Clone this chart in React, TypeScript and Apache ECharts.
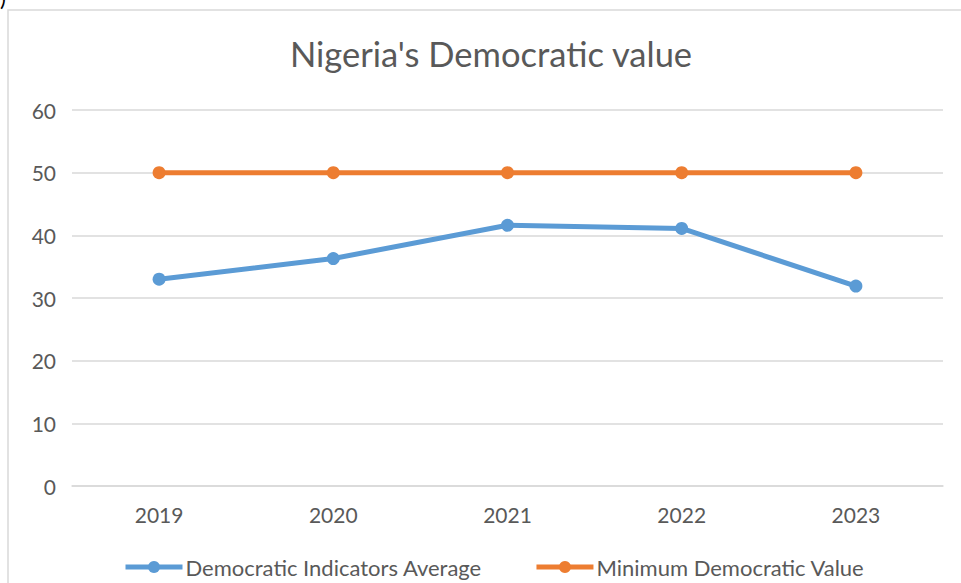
import React, { useEffect, useRef } from "react";
import * as echarts from "echarts";

const years = ["2019", "2020", "2021", "2022", "2023"];
const indicatorsAverage = [33, 36.3, 41.6, 41.1, 31.9];
const minimumValue = [50, 50, 50, 50, 50];
const seriesNames = ["Democratic Indicators Average", "Minimum Democratic Value"];
const titleText = "Nigeria's Democratic value";

export default function App() {
  const ref = useRef<HTMLDivElement>(null);
  useEffect(() => {
    if (!ref.current) return;
    const chart = echarts.init(ref.current, undefined, { renderer: "svg" });
    const font = "Lato, 'Open Sans', sans-serif";
    chart.setOption({
      animation: false,
      backgroundColor: "#ffffff",
      title: {
        text: titleText,
        left: 290,
        top: 36,
        padding: 0,
        textStyle: { fontFamily: font, fontSize: 34.5, fontWeight: "normal", color: "#595959" },
      },
      graphic: [
        {
          type: "rect",
          shape: { x: 8, y: 10, width: 1200, height: 1200 },
          style: { fill: "none", stroke: "#d9d9d9", lineWidth: 1.5 },
          silent: true,
        },
        {
          type: "text",
          x: 0,
          y: -14,
          style: { text: ")", fontSize: 22, fill: "#000", fontFamily: font },
          silent: true,
        },
      ],
      grid: { left: 72, right: 18, top: 110, bottom: 97 },
      legend: {
        left: 123,
        top: 556,
        padding: 0,
        itemWidth: 57,
        itemHeight: 15,
        itemGap: 52,
        lineStyle: { width: 5 },
        textStyle: { fontFamily: font, fontSize: 22, color: "#595959", padding: [0, 0, 0, -2] },
        data: seriesNames,
      },
      xAxis: {
        type: "category",
        data: years,
        boundaryGap: true,
        axisLine: { lineStyle: { color: "#d9d9d9", width: 1.5 } },
        axisTick: { show: false },
        axisLabel: { fontFamily: font, fontSize: 21, color: "#595959", margin: 18 },
      },
      yAxis: {
        type: "value",
        min: 0,
        max: 60,
        interval: 10,
        axisLine: { show: false },
        axisTick: { show: false },
        axisLabel: { fontFamily: font, fontSize: 21, color: "#595959", margin: 16 },
        splitLine: { lineStyle: { color: "#d9d9d9", width: 1.5 } },
      },
      series: [
        {
          name: seriesNames[0],
          type: "line",
          data: indicatorsAverage,
          symbol: "circle",
          symbolSize: 13,
          itemStyle: { color: "#5b9bd5" },
          lineStyle: { width: 5, color: "#5b9bd5" },
        },
        {
          name: seriesNames[1],
          type: "line",
          data: minimumValue,
          symbol: "circle",
          symbolSize: 13,
          itemStyle: { color: "#ed7d31" },
          lineStyle: { width: 5, color: "#ed7d31" },
        },
      ],
    });
    return () => chart.dispose();
  }, []);
  return (
    <div
      ref={ref}
      style={{ position: "fixed", left: 0, top: 0, width: 961, height: 583, background: "#fff" }}
    />
  );
}
